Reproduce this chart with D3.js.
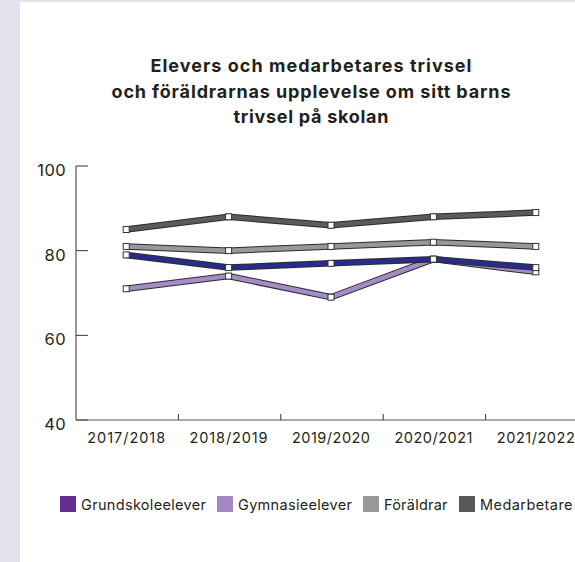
<!DOCTYPE html>
<html>
<head>
<meta charset="utf-8">
<script src="https://cdn.jsdelivr.net/npm/d3@7"></script>
<style>
  body { margin: 0; background: #e6e1ee; }
  svg { display: block; font-family: Inter, "Open Sans", sans-serif; }
</style>
</head>
<body>
<svg></svg>
<script>
const width = 575;
const height = 562;

const years = ["2017/2018", "2018/2019", "2019/2020", "2020/2021", "2021/2022"];
const medarbetare = [85, 88, 86, 88, 89];
const foraldrar = [81, 80, 81, 82, 81];
const gymnasie = [71, 74, 69, 78, 75];
const grundskole = [79, 76, 77, 78, 76];
const yTicks = [40, 60, 80, 100];

const series = [
    { name: "Medarbetare", values: medarbetare, line: "#5b5b5d", legend: "#58585a" },
    { name: "Föräldrar", values: foraldrar, line: "#98989a", legend: "#98989a" },
    { name: "Gymnasieelever", values: gymnasie, line: "#a48cc6", legend: "#a387c0" },
    { name: "Grundskoleelever", values: grundskole, line: "#2a2c8a", legend: "#662d91" }
];
const legendOrder = ["Grundskoleelever", "Gymnasieelever", "Föräldrar", "Medarbetare"];

let svg = d3.select("svg")
    .attr("width", width)
    .attr("height", height)

svg.append("rect")
    .attr("x", 20)
    .attr("y", 2)
    .attr("width", width - 20)
    .attr("height", height - 2)
    .attr("fill", "#fff")

// title (the original font is wider, so stretch each line to its width)
const title = ["Elevers och medarbetares trivsel",
    "och föräldrarnas upplevelse om sitt barns",
    "trivsel på skolan"];
const titleWidths = [321, 399, 155];
svg.append("g")
    .selectAll("text")
    .data(title)
    .join("text")
    .attr("x", 311)
    .attr("y", (d, i) => 72 + i * 25.5)
    .attr("text-anchor", "middle")
    .attr("font-weight", "bold")
    .attr("font-size", 18)
    .attr("fill", "#231f20")
    .attr("textLength", (d, i) => titleWidths[i])
    .attr("lengthAdjust", "spacing")
    .text(d => d)

let xScale = d3.scaleBand()
    .domain(years)
    .range([75, 587])
let yScale = d3.scaleLinear()
    .domain([40, 100])
    .range([420, 166])

const cx = d => xScale(d) + xScale.bandwidth() / 2;

// y axis
const yAxis = svg.append("g")
yAxis.append("line")
    .attr("x1", 76).attr("x2", 76)
    .attr("y1", yScale(100)).attr("y2", yScale(40))
    .attr("stroke", "#333")
yAxis.selectAll(".tick")
    .data(yTicks)
    .join("line")
    .attr("x1", 76).attr("x2", 88)
    .attr("y1", d => yScale(d)).attr("y2", d => yScale(d))
    .attr("stroke", "#333")
yAxis.selectAll("text")
    .data(yTicks)
    .join("text")
    .attr("x", 66)
    .attr("y", d => yScale(d) + 10)
    .attr("text-anchor", "end")
    .attr("font-size", 16.5)
    .attr("letter-spacing", 0.4)
    .attr("fill", "#231f20")
    .text(d => d)

// x axis
const xAxis = svg.append("g")
xAxis.append("line")
    .attr("x1", 76).attr("x2", width)
    .attr("y1", 420).attr("y2", 420)
    .attr("stroke", "#555")
xAxis.selectAll(".tick")
    .data(years.slice(1))
    .join("line")
    .attr("x1", d => xScale(d) + 1).attr("x2", d => xScale(d) + 1)
    .attr("y1", 420).attr("y2", 414)
    .attr("stroke", "#333")
xAxis.selectAll("text")
    .data(years)
    .join("text")
    .attr("x", d => cx(d))
    .attr("y", 443)
    .attr("text-anchor", "middle")
    .attr("font-size", 14.5)
    .attr("fill", "#231f20")
    .attr("textLength", 78)
    .attr("lengthAdjust", "spacing")
    .text(d => d)

// lines
const line = d3.line()
    .x((d, i) => cx(years[i]))
    .y(d => yScale(d))

series.forEach(s => {
    svg.append("path")
        .attr("d", line(s.values))
        .attr("fill", "none")
        .attr("stroke", "#2b2b2b")
        .attr("stroke-width", 6.5)
    svg.append("path")
        .attr("d", line(s.values))
        .attr("fill", "none")
        .attr("stroke", s.line)
        .attr("stroke-width", 4.5)
})
series.forEach(s => {
    svg.selectAll(null)
        .data(s.values)
        .join("rect")
        .attr("x", (d, i) => cx(years[i]) - 3)
        .attr("y", d => yScale(d) - 3)
        .attr("width", 6)
        .attr("height", 6)
        .attr("fill", "#fff")
        .attr("stroke", "#333")
        .attr("stroke-width", 1)
})

// legend
const legendX = [60, 217, 363, 459];
const legendW = [125, 114, 63.5, 92.5];
const legend = svg.append("g")
    .selectAll("g")
    .data(legendOrder)
    .join("g")
    .attr("transform", (d, i) => `translate(${legendX[i]}, 496)`)
legend.append("rect")
    .attr("width", 16)
    .attr("height", 16)
    .attr("fill", d => series.find(s => s.name === d).legend)
legend.append("text")
    .attr("x", 21)
    .attr("y", 14)
    .attr("font-size", 14.5)
    .attr("fill", "#231f20")
    .attr("textLength", (d, i) => legendW[i])
    .attr("lengthAdjust", "spacing")
    .text(d => d)
</script>
</body>
</html>
